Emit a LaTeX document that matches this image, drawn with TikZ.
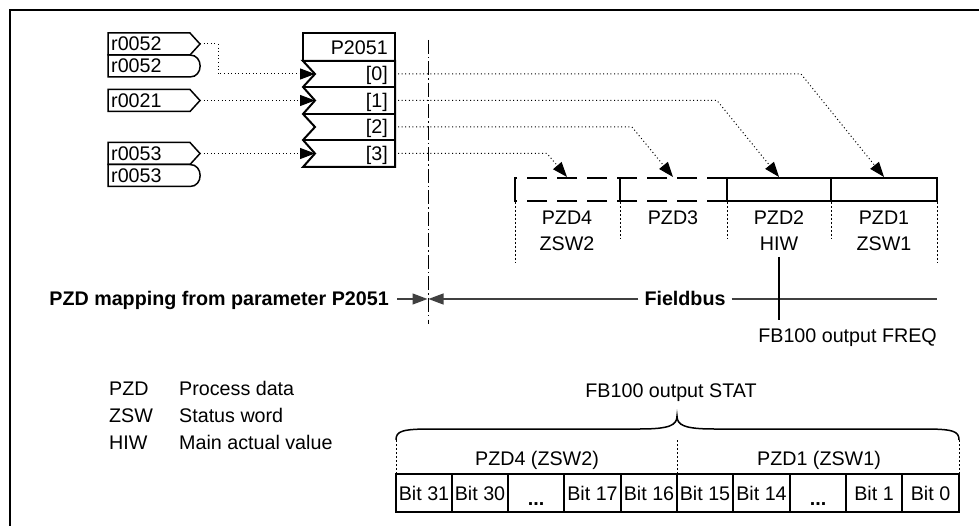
\documentclass[tikz,border=0pt]{standalone}
\usepackage{fontspec}
\setmainfont{Liberation Sans}
\usetikzlibrary{arrows.meta}
\begin{document}
\begin{tikzpicture}[x=1pt,y=-1pt,
  txt/.style={inner sep=0pt, font=\fontsize{19.7}{22}\selectfont},
  bld/.style={inner sep=0pt, font=\fontsize{19.7}{22}\selectfont\bfseries},
  boxln/.style={line width=1.5pt, line join=miter},
  pbox/.style={line width=2pt, line join=miter},
  dotln/.style={line width=1pt, dash pattern=on 1pt off 2.6pt},
  arrowtip/.style={-{Triangle[length=15pt,width=11pt]}},
  busln/.style={line width=1.2pt, draw=black!75},
  pzdsolid/.style={line width=2.5pt},
  pzddash/.style={line width=2.5pt, dash pattern=on 20pt off 10pt},
  guide/.style={line width=0.9pt, dash pattern=on 2pt off 2pt},
  dashdot/.style={line width=1pt, dash pattern=on 14pt off 3pt on 1.5pt off 3pt},
  bitln/.style={line width=1.5pt}
]
\useasboundingbox (0,0) rectangle (979,526);
% frame
\draw[line width=2pt] (10,526) -- (10,10) -- (979,10);

% source boxes
\draw[boxln] (108,33) -- (190,33) -- (200,44) -- (190,55) -- (108,55) -- cycle;
\draw[boxln] (108,55) -- (190,55) .. controls (203.5,55) and (203.5,77) .. (190,77) -- (108,77) -- cycle;
\draw[boxln] (108,89.5) -- (190,89.5) -- (200,100.5) -- (190,111.5) -- (108,111.5) -- cycle;
\draw[boxln] (108,142.5) -- (190,142.5) -- (200,153.5) -- (190,164.5) -- (108,164.5) -- cycle;
\draw[boxln] (108,164.5) -- (190,164.5) .. controls (203.5,164.5) and (203.5,186.5) .. (190,186.5) -- (108,186.5) -- cycle;
\node[txt,anchor=base west] (sa) at (111,51) {r0052};
\node[txt,anchor=base west] (sb) at (111,73) {r0052};
\node[txt,anchor=base west] (sc) at (111,107.5) {r0021};
\node[txt,anchor=base west] (sd) at (111,160.5) {r0053};
\node[txt,anchor=base west] (se) at (111,182.5) {r0053};
\coordinate (sa-o) at (200,44);
\coordinate (sc-o) at (200,100.5);
\coordinate (sd-o) at (200,153.5);

% P2051 block
\draw[pbox] (303,33) rectangle (395,61);
\draw[pbox] (395,61) -- (395,167) -- (303,167) -- (315,153.5) -- (303,140) -- (315,127) -- (303,114) -- (315,100.5) -- (303,87) -- (315,74) -- (303,61) -- cycle;
\draw[pbox] (303,87) -- (395,87) (303,114) -- (395,114) (303,140) -- (395,140);
\node[txt,anchor=base east] (ph) at (388,54.5) {P2051};
\node[txt,anchor=base east] (p0) at (388,81) {[0]};
\node[txt,anchor=base east] (p1) at (388,107.5) {[1]};
\node[txt,anchor=base east] (p2) at (388,134) {[2]};
\node[txt,anchor=base east] (p3) at (388,160.5) {[3]};
\coordinate (in0) at (315,74);
\coordinate (in1) at (315,100.5);
\coordinate (in3) at (315,153.5);
\coordinate (out0) at (398,74);
\coordinate (out1) at (398,100.5);
\coordinate (out2) at (398,127);
\coordinate (out3) at (398,153.5);

% input connectors
\draw[dotln,arrowtip] (sa-o) -- (218,44) |- (in0);
\draw[dotln,arrowtip] (sc-o) -- (in1);
\draw[dotln,arrowtip] (sd-o) -- (in3);

% dash-dot separator
\coordinate (sepT) at (428,40);
\coordinate (sepB) at (428,324);
\draw[dashdot] (sepT) -- (sepB);

% PZD boxes
\draw[pzddash] (727,178) -- (515,178);
\draw[pzddash] (727,201) -- (515,201);
\draw[pzdsolid] (515,176.8) -- (515,202.2);
\draw[line width=1.5pt] (620,178) -- (620,201);
\draw[pzdsolid] (727,178) rectangle (937,201);
\draw[line width=2pt] (831,178) -- (831,201);
\coordinate (t3) at (567,177);
\coordinate (t2) at (673,177);
\coordinate (t1) at (779,177);
\coordinate (t0) at (884,177);

% output connectors
\draw[dotln,arrowtip] (out0) -- (801,74) -- (t0);
\draw[dotln,arrowtip] (out1) -- (717,100.5) -- (t1);
\draw[dotln,arrowtip] (out2) -- (632,127) -- (t2);
\draw[dotln,arrowtip] (out3) -- (547,153.5) -- (t3);

% guides under PZD boxes
\draw[guide] (515,202) -- (515,263);
\draw[guide] (620,202) -- (620,239);
\draw[guide] (727,202) -- (727,239);
\draw[guide] (831,202) -- (831,239);
\draw[guide] (937,202) -- (937,263);

\node[txt,anchor=base] (z4a) at (567,225) {PZD4};
\node[txt,anchor=base] (z4b) at (567,251) {ZSW2};
\node[txt,anchor=base] (z3a) at (673,225) {PZD3};
\node[txt,anchor=base] (z2a) at (779,225) {PZD2};
\node[txt,anchor=base] (z2b) at (779,251) {HIW};
\node[txt,anchor=base] (z1a) at (884,225) {PZD1};
\node[txt,anchor=base] (z1b) at (884,251) {ZSW1};

% Fieldbus line
\node[bld,anchor=base east] (map) at (389,306) {PZD mapping from parameter P2051};
\coordinate (ddL) at (427.5,299);
\coordinate (ddR) at (428.5,299);
\coordinate (busEnd) at (937,299);
\node[bld,anchor=base, fill=white, inner xsep=6pt] (fb) at (685,306) {Fieldbus};
\draw[busln,arrowtip] (397,299) -- (ddL);
\draw[busln,arrowtip] (fb.west |- busEnd) -- (ddR);
\draw[busln] (fb.east |- busEnd) -- (busEnd);
\coordinate (hiwT) at (779,257);
\coordinate (hiwB) at (779,320);
\draw[line width=1.5pt] (hiwT) -- (hiwB);
\node[txt,anchor=base east] (freq) at (937,342) {FB100 output FREQ};

% legend
\node[txt,anchor=base west] (l1) at (109,395) {PZD};
\node[txt,anchor=base west] (l2) at (109,422) {ZSW};
\node[txt,anchor=base west] (l3) at (109,449) {HIW};
\node[txt,anchor=base west] (d1) at (179,395) {Process data};
\node[txt,anchor=base west] (d2) at (179,422) {Status word};
\node[txt,anchor=base west] (d3) at (179,449) {Main actual value};

% STAT
\node[txt,anchor=base] (stat) at (671,397) {FB100 output STAT};
\draw[line width=1.5pt] (396,440) .. controls (396,431) and (402,429) .. (432,429) -- (640,429) .. controls (670,429) and (677,425) .. (677,416) .. controls (677,425) and (684,429) .. (714,429) -- (923,429) .. controls (953,429) and (959,431) .. (959,440);
\draw[guide] (396,440) -- (396,474);
\draw[guide] (677,440) -- (677,474);
\draw[guide] (959,440) -- (959,474);
\node[txt,anchor=base] (w2) at (537,465) {PZD4 (ZSW2)};
\node[txt,anchor=base] (w1) at (819,465) {PZD1 (ZSW1)};
\draw[bitln] (396,474) rectangle (959,512);
\foreach \x in {452,508,564,621,677,733,790,846,902} \draw[bitln] (\x,474) -- (\x,512);
\node[txt,anchor=base] (b31) at (424,500) {Bit 31};
\node[txt,anchor=base] (b30) at (480,500) {Bit 30};
\node[txt,anchor=base,font=\fontsize{19.7}{22}\selectfont\bfseries] (bd1) at (536,505) {...};
\node[txt,anchor=base] (b17) at (592.5,500) {Bit 17};
\node[txt,anchor=base] (b16) at (649,500) {Bit 16};
\node[txt,anchor=base] (b15) at (705,500) {Bit 15};
\node[txt,anchor=base] (b14) at (761.5,500) {Bit 14};
\node[txt,anchor=base,font=\fontsize{19.7}{22}\selectfont\bfseries] (bd2) at (818,505) {...};
\node[txt,anchor=base] (b1) at (874,500) {Bit 1};
\node[txt,anchor=base] (b0) at (930.5,500) {Bit 0};
\end{tikzpicture}
\end{document}
